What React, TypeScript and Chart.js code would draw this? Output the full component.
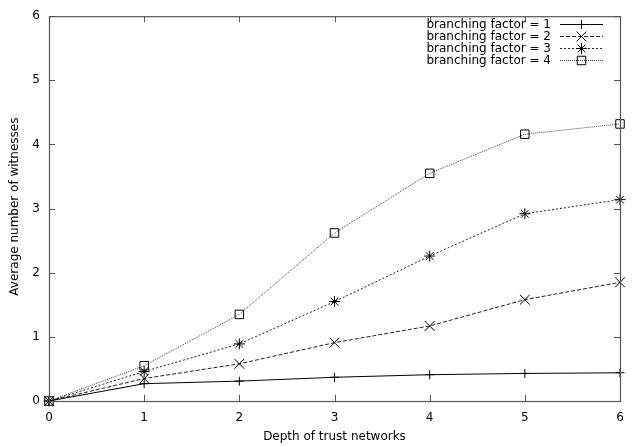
import React, { useEffect, useRef } from 'react';
import { Chart, registerables } from 'chart.js';

Chart.register(...registerables);

const depths = [0, 1, 2, 3, 4, 5, 6];
const bf1 = [0, 0.27, 0.31, 0.37, 0.41, 0.43, 0.44];
const bf2 = [0, 0.35, 0.58, 0.91, 1.17, 1.58, 1.85];
const bf3 = [0, 0.46, 0.89, 1.55, 2.26, 2.92, 3.14];
const bf4 = [0, 0.55, 1.35, 2.62, 3.55, 4.16, 4.32];
const seriesLabels = [
  'branching factor = 1',
  'branching factor = 2',
  'branching factor = 3',
  'branching factor = 4',
];
const xTitle = 'Depth of trust networks';
const yTitle = 'Average number of witnesses';

const FONT = "'DejaVu Sans', sans-serif";

const styles = [
  { pointStyle: 'cross', radius: 4.5, dash: [] as number[], color: '#000' },
  { pointStyle: 'crossRot', radius: 7, dash: [4, 2], color: '#222' },
  { pointStyle: 'star', radius: 5.5, dash: [2, 2], color: '#222' },
  { pointStyle: 'rect', radius: 6, dash: [1, 1], color: '#444' },
];

function drawMarker(ctx: CanvasRenderingContext2D, style: string, x: number, y: number, r: number) {
  ctx.beginPath();
  if (style === 'cross' || style === 'star') {
    ctx.moveTo(x - r, y);
    ctx.lineTo(x + r, y);
    ctx.moveTo(x, y - r);
    ctx.lineTo(x, y + r);
  }
  if (style === 'crossRot' || style === 'star') {
    const d = r * Math.SQRT1_2;
    ctx.moveTo(x - d, y - d);
    ctx.lineTo(x + d, y + d);
    ctx.moveTo(x - d, y + d);
    ctx.lineTo(x + d, y - d);
  }
  if (style === 'rect') {
    const s = r * Math.SQRT1_2;
    ctx.rect(x - s, y - s, 2 * s, 2 * s);
  }
  ctx.stroke();
}

const gnuFrame = {
  id: 'gnuFrame',
  afterDraw(chart: any) {
    const { ctx, chartArea } = chart;
    const { left, right, top, bottom } = chartArea;
    const xs = chart.scales.x;
    const ys = chart.scales.y;
    ctx.save();
    // frame
    ctx.strokeStyle = '#555';
    ctx.lineWidth = 1.2;
    ctx.setLineDash([]);
    ctx.strokeRect(left + 0.5, top + 0.5, right - left, bottom - top);
    // inward ticks
    const tl = 6;
    ctx.lineWidth = 1;
    ctx.beginPath();
    xs.ticks.forEach((t: any) => {
      const px = Math.round(xs.getPixelForValue(t.value)) + 0.5;
      ctx.moveTo(px, bottom);
      ctx.lineTo(px, bottom - tl);
      ctx.moveTo(px, top);
      ctx.lineTo(px, top + tl);
    });
    ys.ticks.forEach((t: any) => {
      const py = Math.round(ys.getPixelForValue(t.value)) + 0.5;
      ctx.moveTo(left, py);
      ctx.lineTo(left + tl, py);
      ctx.moveTo(right, py);
      ctx.lineTo(right - tl, py);
    });
    ctx.stroke();

    // axis titles
    ctx.fillStyle = '#000';
    ctx.font = `12px ${FONT}`;
    ctx.textAlign = 'center';
    ctx.textBaseline = 'alphabetic';
    ctx.fillText(xTitle, (left + right) / 2, 440);
    ctx.save();
    ctx.translate(18, (top + bottom) / 2 - 2);
    ctx.rotate(-Math.PI / 2);
    ctx.fillText(yTitle, 0, 0);
    ctx.restore();

    // legend
    const textRight = 551;
    const lineStart = 560;
    const lineEnd = 603;
    chart.data.datasets.forEach((ds: any, i: number) => {
      const st = styles[i];
      const y = 24.5 + i * 12;
      ctx.fillStyle = '#000';
      ctx.textAlign = 'right';
      ctx.textBaseline = 'middle';
      ctx.fillText(ds.label, textRight, y);
      ctx.strokeStyle = st.color;
      ctx.lineWidth = 1;
      ctx.setLineDash(st.dash);
      ctx.beginPath();
      ctx.moveTo(lineStart, y);
      ctx.lineTo(lineEnd, y);
      ctx.stroke();
      ctx.setLineDash([]);
      ctx.strokeStyle = '#000';
      drawMarker(ctx, st.pointStyle, (lineStart + lineEnd) / 2, y, st.radius);
    });
    ctx.restore();
  },
};

export default function App() {
  const ref = useRef<HTMLCanvasElement | null>(null);
  useEffect(() => {
    if (!ref.current) return;
    const series = [bf1, bf2, bf3, bf4];
    const chart = new Chart(ref.current, {
      type: 'line',
      data: {
        datasets: series.map((vals, i) => ({
          label: seriesLabels[i],
          data: depths.map((d, j) => ({ x: d, y: vals[j] })),
          borderColor: styles[i].color,
          borderWidth: 1,
          borderDash: styles[i].dash,
          pointStyle: styles[i].pointStyle as any,
          pointRadius: styles[i].radius,
          pointBorderColor: '#000',
          pointBackgroundColor: 'rgba(0,0,0,0)',
          pointBorderWidth: 1,
          tension: 0,
          fill: false,
          clip: false as any,
        })),
      },
      options: {
        animation: false,
        responsive: false,
        events: [],
        layout: { padding: { top: 11, right: 21, left: 0, bottom: 0 } },
        plugins: { legend: { display: false }, tooltip: { enabled: false } },
        scales: {
          x: {
            type: 'linear',
            min: 0,
            max: 6,
            grid: { display: false, drawTicks: false },
            border: { display: false },
            ticks: { stepSize: 1, color: '#000', font: { family: FONT, size: 12 }, padding: 10, maxRotation: 0 },
            afterFit: (s: any) => { s.height = 45; },
          },
          y: {
            type: 'linear',
            min: 0,
            max: 6,
            grid: { display: false, drawTicks: false },
            border: { display: false },
            ticks: { stepSize: 1, color: '#000', font: { family: FONT, size: 12 }, padding: 9 },
            afterFit: (s: any) => { s.width = 49; },
          },
        },
      },
      plugins: [gnuFrame],
    });
    return () => chart.destroy();
  }, []);
  return (
    <div style={{ position: 'absolute', left: 0, top: 0, width: 641, height: 446, background: '#fff' }}>
      <canvas ref={ref} width={641} height={446} />
    </div>
  );
}
